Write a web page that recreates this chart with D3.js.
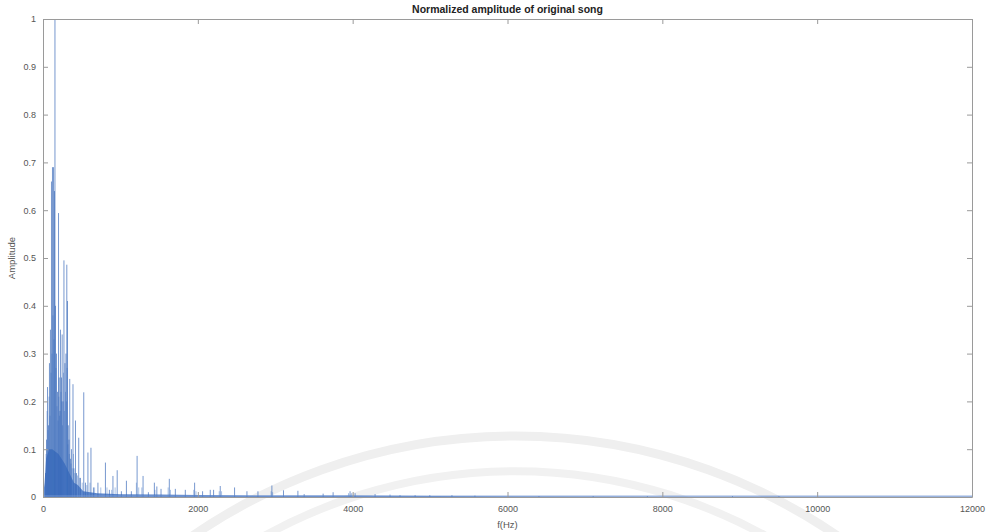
<!DOCTYPE html>
<meta charset="utf-8">
<script src="https://d3js.org/d3.v7.min.js"></script>
<style>
  body { margin: 0; background: #fff; }
  text { font-family: "Liberation Sans", Arial, sans-serif; }
</style>
<div id="my_dataviz"></div>
<script>
// spectral peaks (Hz, normalized amplitude)
var peakFreq = [26, 39, 52, 65, 77, 90, 103, 116, 129, 142, 148, 155, 168, 181, 194, 203, 213, 219, 232, 241,
  252, 264, 277, 290, 301, 310, 320, 329, 339, 348, 361, 381, 393, 413, 426, 455, 477, 520, 542, 574,
  613, 645, 703, 800, 851, 897, 952, 1006, 1071, 1135, 1209, 1286, 1355, 1432, 1464, 1518, 1625, 1703, 1832, 1952,
  2055, 2154, 2197, 2283, 2468, 2628, 2770, 2950, 3100, 3286, 3367, 3612, 3741, 3960, 4025, 4283, 4476, 4605, 4800, 4990,
  5276, 5573, 6400, 7100, 7800, 8900, 9500];
var peakAmp = [0.05, 0.12, 0.23, 0.15, 0.28, 0.35, 0.66, 0.69, 0.69, 0.64, 1.0, 0.40, 0.30, 0.22, 0.594, 0.25, 0.18, 0.35, 0.25, 0.34,
  0.20, 0.495, 0.28, 0.30, 0.486, 0.41, 0.15, 0.12, 0.247, 0.08, 0.10, 0.236, 0.06, 0.16, 0.05, 0.124, 0.04, 0.219, 0.03, 0.093,
  0.103, 0.02, 0.03, 0.072, 0.015, 0.044, 0.056, 0.012, 0.034, 0.012, 0.086, 0.044, 0.01, 0.03, 0.022, 0.017, 0.038, 0.017, 0.015, 0.03,
  0.012, 0.015, 0.015, 0.023, 0.02, 0.012, 0.012, 0.024, 0.014, 0.013, 0.006, 0.007, 0.01, 0.012, 0.008, 0.006, 0.005, 0.004, 0.004, 0.004,
  0.004, 0.003, 0.002, 0.002, 0.002, 0.002, 0.002];

// smaller side spikes around the harmonics
var sideFreq = [33, 46, 58, 71, 84, 97, 109, 122, 135, 161, 174, 187, 198, 208, 225, 237, 246, 258, 270, 284,
  296, 305, 315, 334, 355, 370, 387, 405, 440, 465, 500, 560, 600, 660, 740, 820, 880, 925, 1200, 1230,
  1270, 1440, 1610, 1640, 1940, 1970, 2270, 2300, 2940, 2960, 3940, 3980];
var sideAmp = [0.09, 0.18, 0.14, 0.21, 0.17, 0.26, 0.3, 0.38, 0.33, 0.27, 0.19, 0.16, 0.21, 0.17, 0.22, 0.2, 0.15, 0.26, 0.18, 0.22,
  0.2, 0.27, 0.11, 0.09, 0.07, 0.06, 0.09, 0.05, 0.045, 0.04, 0.03, 0.025, 0.03, 0.02, 0.02, 0.02, 0.015, 0.02, 0.03, 0.02,
  0.02, 0.015, 0.02, 0.015, 0.015, 0.012, 0.012, 0.012, 0.012, 0.01, 0.008, 0.008];

// dense noise floor under the spikes (Hz, amplitude)
var floorFreq = [0, 20, 40, 80, 120, 200, 280, 340, 400, 450, 520, 700, 1000, 1500, 2000, 3000, 4000, 5000, 6000, 8000, 12000];
var floorAmp = [0, 0.03, 0.08, 0.1, 0.1, 0.09, 0.07, 0.05, 0.03, 0.025, 0.012, 0.008, 0.006, 0.005, 0.004, 0.003, 0.003, 0.002, 0.0015, 0.001, 0.001];

var xTicks = [0, 2000, 4000, 6000, 8000, 10000, 12000];
var yTicks = [0, 0.1, 0.2, 0.3, 0.4, 0.5, 0.6, 0.7, 0.8, 0.9, 1];

var W = 989, H = 532;
var margin = {top: 19, right: 17, bottom: 35, left: 43},
    width = W - margin.left - margin.right,
    height = H - margin.top - margin.bottom;

var root = d3.select("#my_dataviz").append("svg")
    .attr("width", W).attr("height", H);

// faint watermark arcs from the scanned page
root.append("path").attr("d", "M160,560 A570,570 0 0 1 870,560")
  .attr("fill", "none").attr("stroke", "#efefef").attr("stroke-width", 9);
root.append("path").attr("d", "M225,560 A518,518 0 0 1 805,560")
  .attr("fill", "none").attr("stroke", "#f1f1f1").attr("stroke-width", 8);

var svg = root.append("g")
    .attr("transform", "translate(" + margin.left + "," + margin.top + ")");

var x = d3.scaleLinear().domain([0, 12000]).range([0, width]);
var y = d3.scaleLinear().domain([0, 1]).range([height, 0]);

// noise floor
var floorData = floorFreq.map(function(f, i) { return {f: f, a: floorAmp[i]}; });
svg.append("path")
  .datum(floorData)
  .attr("fill", "#3a6cbf")
  .attr("fill-opacity", 0.8)
  .attr("d", d3.area().x(function(d) { return x(d.f); }).y0(y(0)).y1(function(d) { return y(d.a); }));

function spikes(cls, fs, as, col, op) {
  var data = fs.map(function(f, i) { return {f: f, a: as[i]}; });
  svg.selectAll("line." + cls)
    .data(data)
    .enter().append("line")
      .attr("class", cls)
      .attr("x1", function(d) { return x(d.f) + 0.5; })
      .attr("x2", function(d) { return x(d.f) + 0.5; })
      .attr("y1", y(0))
      .attr("y2", function(d) { return y(d.a); })
      .attr("stroke", col)
      .attr("stroke-opacity", op)
      .attr("stroke-width", 0.8);
}
spikes("side", sideFreq, sideAmp, "#4a7cc8", 0.6);
spikes("peak", peakFreq, peakAmp, "#3566b8", 0.85);

// baseline
svg.append("line").attr("x1", x(0)).attr("x2", x(12000)).attr("y1", y(0) - 1).attr("y2", y(0) - 1)
  .attr("stroke", "#7e9fd6").attr("stroke-width", 0.8);

// axes, MATLAB style ticks pointing inward on all four sides
var axCol = "#9a9a9a", txtCol = "#555";
function styleAxis(g) {
  g.select(".domain").attr("stroke", axCol);
  g.selectAll(".tick line").attr("stroke", axCol);
  g.selectAll(".tick text").attr("fill", txtCol).style("font-size", "9px");
}
svg.append("g").attr("transform", "translate(0," + height + ")")
  .call(d3.axisBottom(x).tickValues(xTicks).tickSizeInner(-5).tickSizeOuter(0).tickPadding(9).tickFormat(d3.format("d")))
  .call(styleAxis);
svg.append("g")
  .call(d3.axisTop(x).tickValues(xTicks).tickSizeInner(-5).tickSizeOuter(0).tickFormat(""))
  .call(styleAxis);
svg.append("g")
  .call(d3.axisLeft(y).tickValues(yTicks).tickSizeInner(-5).tickSizeOuter(0).tickPadding(7).tickFormat(function(d) { return d === 0 || d === 1 ? d : d3.format(".1f")(d); }))
  .call(styleAxis);
svg.append("g").attr("transform", "translate(" + width + ",0)")
  .call(d3.axisRight(y).tickValues(yTicks).tickSizeInner(-5).tickSizeOuter(0).tickFormat(""))
  .call(styleAxis);

// title and labels
svg.append("text").attr("x", width / 2).attr("y", -6).attr("text-anchor", "middle")
  .style("font-size", "10.5px").style("font-weight", "bold").attr("fill", "#222")
  .text("Normalized amplitude of original song");
svg.append("text").attr("x", width / 2).attr("y", height + 31).attr("text-anchor", "middle")
  .style("font-size", "9.5px").attr("fill", txtCol).text("f(Hz)");
svg.append("text").attr("transform", "translate(-28," + height / 2 + ") rotate(-90)")
  .attr("text-anchor", "middle").style("font-size", "9.5px").attr("fill", txtCol).text("Amplitude");
</script>
